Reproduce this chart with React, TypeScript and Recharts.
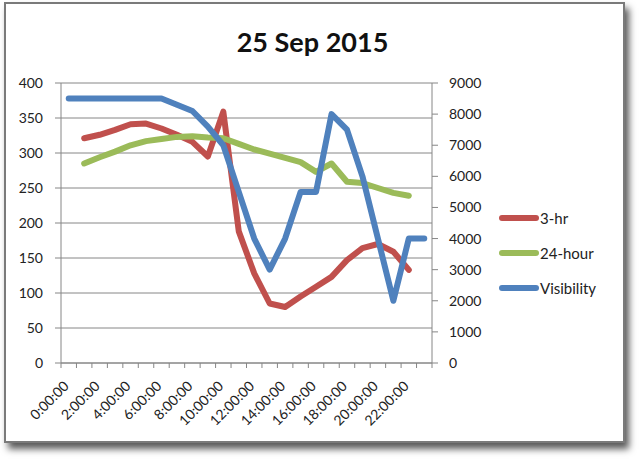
import React from "react";
import {
  LineChart,
  Line,
  XAxis,
  YAxis,
  CartesianGrid,
  Legend,
} from "recharts";

const times = [
  "0:00:00", "1:00:00", "2:00:00", "3:00:00", "4:00:00", "5:00:00",
  "6:00:00", "7:00:00", "8:00:00", "9:00:00", "10:00:00", "11:00:00",
  "12:00:00", "13:00:00", "14:00:00", "15:00:00", "16:00:00", "17:00:00",
  "18:00:00", "19:00:00", "20:00:00", "21:00:00", "22:00:00", "23:00:00",
];

const threeHr = [
  null, 321, 326, 333, 341, 342, 335, 326, 316, 295, 359, 188,
  128, 85, 80, 95, 109, 123, 147, 164, 170, 159, 133, null,
];

const twentyFourHour = [
  null, 285, 294, 302, 311, 317, 320, 323, 324, 322, 321, 313,
  305, 299, 293, 287, 273, 285, 259, 257, 250, 243, 239, null,
];

const visibility = [
  8500, 8500, 8500, 8500, 8500, 8500, 8500, 8300, 8100, 7600, 7000, 5500,
  4000, 3000, 4000, 5500, 5500, 8000, 7500, 6000, 4000, 2000, 4000, 4000,
];

const leftTicks = [0, 50, 100, 150, 200, 250, 300, 350, 400];
const rightTicks = [0, 1000, 2000, 3000, 4000, 5000, 6000, 7000, 8000, 9000];

const data = times.map((t, i) => ({
  time: t,
  threeHr: threeHr[i],
  twentyFour: twentyFourHour[i],
  visibility: visibility[i],
}));

const series = [
  { key: "threeHr", name: "3-hr", color: "#c0504d", axis: "left" },
  { key: "twentyFour", name: "24-hour", color: "#9bbb59", axis: "left" },
  { key: "visibility", name: "Visibility", color: "#4f81bd", axis: "right" },
];

const FONT = "Lato, 'Open Sans', sans-serif";
const AXIS = "#868686";
const PLOT_W = 371;
const STEP = PLOT_W / times.length;

// excel puts ticks between categories and labels only every other one
const TimeTick = (props: any) => {
  const { x, y, index, payload } = props;
  const half = STEP / 2;
  const tx = x + 1;
  const ty = y + 24;
  return (
    <g>
      <line x1={x - half} y1={y} x2={x - half} y2={y + 5} stroke={AXIS} />
      {index === times.length - 1 && (
        <line x1={x + half} y1={y} x2={x + half} y2={y + 5} stroke={AXIS} />
      )}
      {index % 2 === 0 && (
        <text
          x={tx}
          y={ty}
          textAnchor="end"
          fontSize={14}
          fontFamily={FONT}
          fill="#222"
          transform={`rotate(-45, ${tx}, ${ty})`}
        >
          {payload.value}
        </text>
      )}
    </g>
  );
};

const renderLegend = () => (
  <div style={{ fontFamily: FONT, fontSize: 15, color: "#222" }}>
    {series.map((s) => (
      <div
        key={s.key}
        style={{ display: "flex", alignItems: "center", height: 35 }}
      >
        <svg width={42} height={8}>
          <line
            x1={4}
            y1={4}
            x2={38}
            y2={4}
            stroke={s.color}
            strokeWidth={6}
            strokeLinecap="round"
          />
        </svg>
        <span>{s.name}</span>
      </div>
    ))}
  </div>
);

export default function App() {
  return (
    <div
      style={{
        position: "absolute",
        left: 0,
        top: 0,
        width: 640,
        height: 461,
        background: "#fff",
      }}
    >
      <div
        style={{
          position: "absolute",
          left: 4,
          top: 2,
          width: 617,
          height: 437,
          border: "2px solid #7a7a7a",
          boxShadow: "4px 6px 7px rgba(0,0,0,0.65)",
          background: "#fff",
        }}
      />
      <div
        style={{
          position: "absolute",
          left: 0,
          top: 25,
          width: 625,
          textAlign: "center",
          fontFamily: FONT,
          fontWeight: 700,
          fontSize: 27,
          color: "#111",
        }}
      >
        25 Sep 2015
      </div>
      <div style={{ position: "absolute", left: 0, top: 0 }}>
        <LineChart
          width={640}
          height={461}
          data={data}
          margin={{ top: 83, right: 148, bottom: 0, left: 0 }}
        >
          <CartesianGrid vertical={false} stroke={AXIS} yAxisId="left" />
          <XAxis
            dataKey="time"
            interval={0}
            height={98}
            padding={{ left: STEP / 2, right: STEP / 2 }}
            tickLine={false}
            tickSize={0}
            tickMargin={0}
            axisLine={{ stroke: AXIS }}
            tick={<TimeTick />}
          />
          <YAxis
            yAxisId="left"
            domain={[0, 400]}
            ticks={leftTicks}
            width={61}
            tickSize={6}
            tickMargin={12}
            axisLine={{ stroke: AXIS }}
            tickLine={{ stroke: AXIS }}
            tick={{ fontSize: 14, fontFamily: FONT, fill: "#222" }}
          />
          <YAxis
            yAxisId="right"
            orientation="right"
            domain={[0, 9000]}
            ticks={rightTicks}
            width={60}
            tickSize={6}
            tickMargin={11}
            axisLine={{ stroke: AXIS }}
            tickLine={{ stroke: AXIS }}
            tick={{
              fontSize: 14,
              fontFamily: FONT,
              fill: "#222",
              textAnchor: "start",
            }}
          />
          <Legend
            layout="vertical"
            align="center"
            verticalAlign="middle"
            content={renderLegend}
            wrapperStyle={{ left: 498, top: 200, width: 130 }}
          />
          {series.map((s) => (
            <Line
              key={s.key}
              yAxisId={s.axis}
              dataKey={s.key}
              name={s.name}
              type="linear"
              stroke={s.color}
              strokeWidth={6}
              strokeLinecap="round"
              strokeLinejoin="round"
              dot={false}
              activeDot={false}
              isAnimationActive={false}
            />
          ))}
        </LineChart>
      </div>
    </div>
  );
}
